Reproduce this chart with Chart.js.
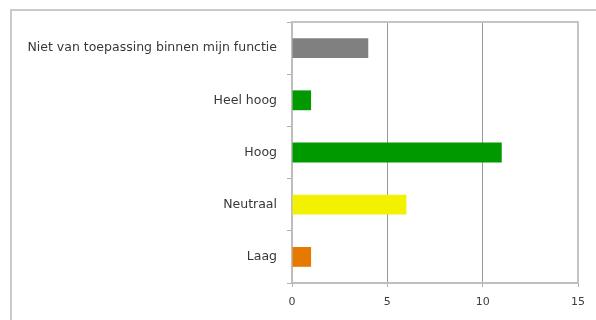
<!DOCTYPE html>
<html>
<head>
<meta charset="utf-8">
<script src="https://cdn.jsdelivr.net/npm/chart.js@4"></script>
<style>
  html, body { margin: 0; padding: 0; background: #fff; overflow: hidden; }
  canvas { display: block; }
</style>
</head>
<body>
<canvas id="chart" width="596" height="320"></canvas>
<script>
const categories = ['Niet van toepassing binnen mijn functie', 'Heel hoog', 'Hoog', 'Neutraal', 'Laag'];
const values = [4, 1, 11, 6, 1];
const barColors = ['#808080', '#009a00', '#009a00', '#f2f200', '#e67a00'];
const xTicks = [0, 5, 10, 15];

// outer frame (top + left only visible) and plot-area top/right edges
const frames = {
  id: 'frames',
  beforeDraw(chart) {
    const ctx = chart.ctx;
    ctx.save();
    ctx.strokeStyle = '#cacaca';
    ctx.lineWidth = 2;
    ctx.beginPath();
    ctx.moveTo(11, chart.height);
    ctx.lineTo(11, 10);
    ctx.lineTo(chart.width, 10);
    ctx.stroke();
    ctx.restore();
  },
  afterDraw(chart) {
    const a = chart.chartArea;
    const ctx = chart.ctx;
    ctx.save();
    ctx.strokeStyle = '#c4c4c4';
    ctx.lineWidth = 2;
    ctx.beginPath();
    ctx.moveTo(a.left, a.top);
    ctx.lineTo(a.right, a.top);
    ctx.lineTo(a.right, a.bottom);
    ctx.stroke();
    ctx.restore();
  }
};

new Chart(document.getElementById('chart'), {
  type: 'bar',
  data: {
    labels: categories,
    datasets: [{
      data: values,
      backgroundColor: barColors,
      borderWidth: 0,
      barPercentage: 0.38,
      categoryPercentage: 1
    }]
  },
  options: {
    indexAxis: 'y',
    responsive: false,
    animation: false,
    layout: { padding: { top: 22, right: 18, left: 0, bottom: 0 } },
    plugins: {
      legend: { display: false },
      tooltip: { enabled: false }
    },
    scales: {
      x: {
        min: 0,
        max: 15,
        afterBuildTicks(scale) {
          scale.ticks = xTicks.map(v => ({ value: v }));
        },
        afterFit(scale) { scale.height = 37; },
        grid: { color: '#999999', lineWidth: 1, tickLength: 4, tickColor: '#b0b0b0' },
        border: { color: '#bdbdbd', width: 2 },
        ticks: {
          color: '#404040',
          padding: 9,
          font: { family: 'DejaVu Sans', size: 11 }
        }
      },
      y: {
        afterFit(scale) { scale.width = 292; },
        grid: { drawOnChartArea: false, tickLength: 5, color: '#b0b0b0' },
        border: { color: '#bdbdbd', width: 2 },
        ticks: {
          color: '#383838',
          padding: 10,
          font: { family: 'DejaVu Sans', size: 12.5 }
        }
      }
    }
  },
  plugins: [frames]
});
</script>
</body>
</html>
